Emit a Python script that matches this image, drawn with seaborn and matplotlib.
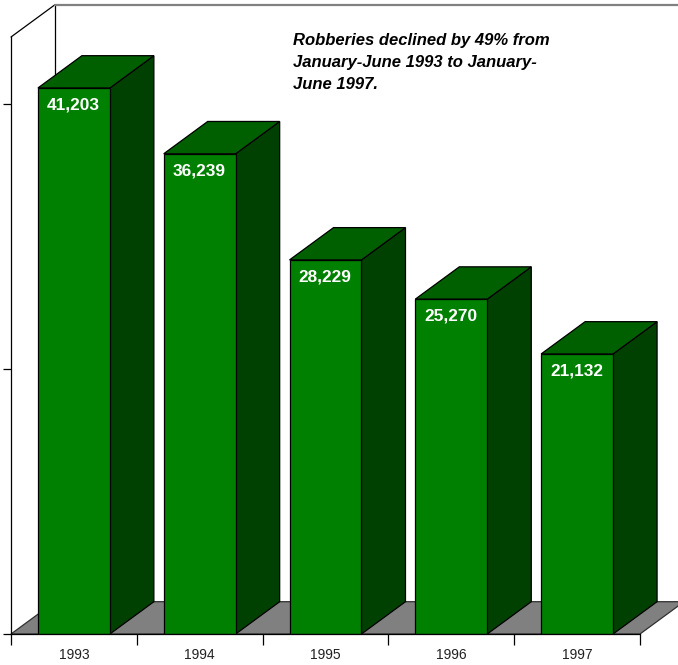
import matplotlib
matplotlib.use('Agg')
import matplotlib.pyplot as plt
import pandas as pd
import seaborn as sns
from matplotlib.patches import Polygon

years = ['1993', '1994', '1995', '1996', '1997']
robberies = [41203, 36239, 28229, 25270, 21132]
value_labels = ['41,203', '36,239', '28,229', '25,270', '21,132']
y_ticks = [0, 20000, 40000]
note = 'Robberies declined by 49% from\nJanuary-June 1993 to January-\nJune 1997.'

W, H = 678, 665
FRONT, TOP, SIDE = '#008000', '#006000', '#004000'
FLOOR = '#808080'

sns.set_style('white')
plt.rcParams['font.family'] = ['Liberation Sans', 'DejaVu Sans']

fig = plt.figure(figsize=(W / 100, H / 100), dpi=100)
ax = fig.add_axes([11 / W, 1 - 634 / H, 629 / W, 597 / H])

df = pd.DataFrame({'year': years, 'robberies': robberies})
sns.barplot(data=df, x='year', y='robberies', color=FRONT, saturation=1,
            width=0.572, edgecolor='black', linewidth=0.9, ax=ax)
bars = list(ax.patches)
ax.set_xlim(-0.5, 4.5)
ax.set_ylim(0, 45050)
ax.set_xlabel('')
ax.set_ylabel('')

# depth of the fake 3D, in data units
dx = 44 / 629 * 5
dy = 32.3 / 597 * 45050

# floor and back wall
x0, x1 = ax.get_xlim()
y1 = ax.get_ylim()[1]
ax.add_patch(Polygon([(x0, 0), (x0 + dx, dy), (x1 + dx, dy), (x1, 0)], closed=True,
                     fc=FLOOR, ec='#303030', lw=0.9, zorder=0.5, clip_on=False))
ax.plot([x0, x0 + dx], [y1, y1 + dy], color='black', lw=0.9, clip_on=False, zorder=0.6)
ax.plot([x0 + dx, x0 + dx], [dy, y1 + dy], color='black', lw=0.9, clip_on=False, zorder=0.6)
ax.plot([x0 + dx, x1 + dx], [y1 + dy, y1 + dy], color=FLOOR, lw=1.6, clip_on=False, zorder=0.6)

# side and top faces, from the bars seaborn drew
for p in bars:
    left, w, h = p.get_x(), p.get_width(), p.get_height()
    right = left + w
    side = [(right, 0), (right + dx, dy), (right + dx, h + dy), (right, h)]
    top = [(left, h), (left + dx, h + dy), (right + dx, h + dy), (right, h)]
    ax.add_patch(Polygon(side, closed=True, fc=SIDE, ec='black', lw=0.9, zorder=2, clip_on=False))
    ax.add_patch(Polygon(top, closed=True, fc=TOP, ec='black', lw=0.9, zorder=2, clip_on=False))
    p.set_zorder(3)

for i, (v, lab) in enumerate(zip(robberies, value_labels)):
    ax.annotate(lab, (i, v), xytext=(-0.3, -12.3), textcoords='offset points', ha='center',
                va='center', color='white', fontsize=12.4, fontweight='bold', zorder=4)

# ticks sit between the categories, labels on the centres
ax.set_xticks([i - 0.5 for i in range(6)])
ax.set_xticklabels([''] * 6)
ax.set_xticks(range(5), labels=years, minor=True)
ax.tick_params(axis='x', which='major', bottom=True, length=8, width=0.9, color='black')
ax.tick_params(axis='x', which='minor', bottom=False, length=0, pad=10, labelsize=10,
               labelcolor='#222222')
ax.xaxis.get_major_ticks()[-1].tick1line.set_color(FLOOR)
ax.set_yticks(y_ticks)
ax.set_yticklabels([])
ax.tick_params(axis='y', left=True, length=6, width=0.9, color='black')

sns.despine(ax=ax)
for side_name in ('left', 'bottom'):
    ax.spines[side_name].set_color('black')
    ax.spines[side_name].set_linewidth(0.9)
    ax.spines[side_name].set_zorder(5)

fig.text(293 / W, 1 - 33.5 / H, note, ha='left', va='top', fontsize=12, fontweight='bold',
         fontstyle='italic', color='black', linespacing=1.56)

fig.savefig('out.png', dpi=100)
